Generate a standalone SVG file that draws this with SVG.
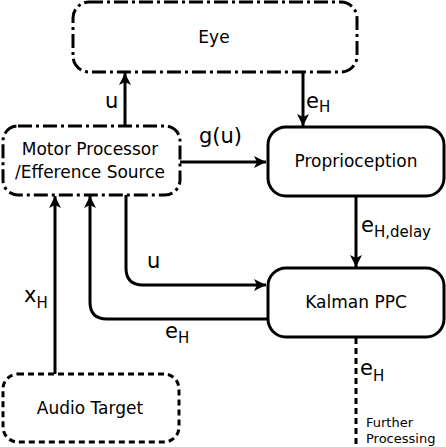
<svg xmlns="http://www.w3.org/2000/svg" width="446" height="447" viewBox="0 0 446 447">
<style>
text{font-family:"DejaVu Sans","Liberation Sans",sans-serif;fill:#000}
.box{fill:#fff;stroke:#000;stroke-width:3}
.dd{stroke-dasharray:14,4,3,4}
.da{stroke-dasharray:6,4}
.bl{font-size:17px;text-anchor:middle}
.lb{font-size:21px}
.sub{font-size:15px}
.c{fill:none;stroke:#000;stroke-width:3}
</style>
<defs>
<marker id="ah" markerUnits="userSpaceOnUse" markerWidth="14" markerHeight="12" refX="12" refY="6" orient="auto">
<path d="M0,0 L12,6 L0,12 L3,6 Z" fill="#000"/>
</marker>
</defs>
<g id="connectors">
<path class="c" d="M125,126 V73" marker-end="url(#ah)"/>
<path class="c" d="M303,72 V126" marker-end="url(#ah)"/>
<path class="c" d="M180,162 H266" marker-end="url(#ah)"/>
<path class="c" d="M356,196 V267" marker-end="url(#ah)"/>
<path class="c" d="M126,195 V268 Q126,285 143,285 H266" marker-end="url(#ah)"/>
<path class="c" d="M268,319 H107 Q90,319 90,302 V196" marker-end="url(#ah)"/>
<path class="c" d="M55,374 V196" marker-end="url(#ah)"/>
<path class="c" d="M356,338 V447" stroke-dasharray="6,4"/>
<text class="lb" x="105" y="108">u</text>
<text class="lb" x="306" y="108">e<tspan class="sub" dy="4">H</tspan></text>
<text class="lb" x="199" y="143">g(u)</text>
<text class="lb" x="361" y="232">e<tspan class="sub" dy="5">H,delay</tspan></text>
<text class="lb" x="147" y="268">u</text>
<text class="lb" x="165" y="338">e<tspan class="sub" dy="5">H</tspan></text>
<text class="lb" x="24" y="302">x<tspan class="sub" dy="6">H</tspan></text>
<text class="lb" x="360" y="375">e<tspan class="sub" dy="6">H</tspan></text>
<text x="366" y="427" font-size="13">Further</text>
<text x="366" y="443" font-size="13">Processing</text>
</g>
<g id="eye">
<rect class="box dd" x="73" y="2" width="284" height="70" rx="16"/>
<text class="bl" x="214" y="43">Eye</text>
</g>
<g id="motor">
<rect class="box dd" x="3" y="126" width="177" height="69" rx="15"/>
<text class="bl" x="90" y="155">Motor Processor</text>
<text class="bl" x="90" y="178">/Efference Source</text>
</g>
<g id="proprioception">
<rect class="box" x="268" y="127" width="176" height="69" rx="18"/>
<text class="bl" x="356" y="167">Proprioception</text>
</g>
<g id="kalman">
<rect class="box" x="268" y="268" width="176" height="69" rx="18"/>
<text class="bl" x="356" y="308">Kalman PPC</text>
</g>
<g id="audio">
<rect class="box da" x="3" y="374" width="176" height="68" rx="15"/>
<text class="bl" x="90" y="414">Audio Target</text>
</g>
</svg>
